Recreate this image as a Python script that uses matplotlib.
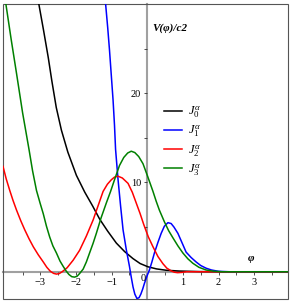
import matplotlib
matplotlib.use('Agg')
import matplotlib.pyplot as plt
from matplotlib.patches import Rectangle

plt.rcParams['font.family'] = ['Liberation Serif', 'DejaVu Serif']
plt.rcParams['mathtext.fontset'] = 'custom'
plt.rcParams['mathtext.rm'] = 'Liberation Serif'
plt.rcParams['mathtext.it'] = 'Liberation Serif:italic'
plt.rcParams['mathtext.bf'] = 'Liberation Serif:bold'

# valores
x_j0 = [-3.045, -2.91, -2.78, -2.68, -2.555, -2.41, -2.23, -1.99, -1.756, -1.532, -1.336,
        -1.112, -0.868, -0.636, -0.403, -0.2, 0.017, 0.26, 0.53, 0.905, 1.465, 2.0, 4.0]
y_j0 = [30.0, 27.0, 24.0, 21.4, 18.4, 15.85, 13.4, 10.8, 8.92, 7.35, 5.89,
        4.55, 3.21, 2.26, 1.48, 0.92, 0.56, 0.32, 0.17, 0.08, 0.02, 0.0, 0.0]

x_j1 = [-1.17, -1.11, -1.06, -1.01, -0.96, -0.92, -0.89, -0.82, -0.75, -0.68, -0.59, -0.5,
        -0.45, -0.4, -0.35, -0.29, -0.23, -0.18, -0.13, -0.08, 0.0, 0.06, 0.13, 0.2, 0.3,
        0.39, 0.48, 0.58, 0.67, 0.75, 0.86, 0.97, 1.09, 1.23, 1.37, 1.5, 1.65, 1.8, 2.0,
        2.3, 4.0]
y_j1 = [30.0, 27.3, 24.8, 22.0, 19.2, 16.4, 13.7, 10.3, 7.4, 4.7, 2.5, 0.6,
        -0.6, -1.7, -2.5, -3.0, -2.9, -2.5, -1.95, -1.3, -0.4, 0.2, 1.1, 2.1, 3.3,
        4.3, 5.1, 5.5, 5.4, 5.0, 4.3, 3.3, 2.2, 1.6, 1.1, 0.7, 0.4, 0.2, 0.05,
        0.0, 0.0]

x_j2 = [-4.05, -3.96, -3.86, -3.77, -3.67, -3.55, -3.44, -3.32, -3.2, -3.06, -2.92, -2.82,
        -2.72, -2.63, -2.55, -2.47, -2.39, -2.25, -2.08, -1.9, -1.71, -1.52, -1.38, -1.24,
        -1.12, -1.01, -0.92, -0.82, -0.7, -0.54, -0.42, -0.31, -0.2, -0.1, 0.03, 0.16,
        0.3, 0.44, 0.55, 0.67, 0.76, 0.85, 0.97, 1.1, 1.5, 4.0]
y_j2 = [11.8, 10.4, 9.1, 8.0, 6.9, 5.7, 4.7, 3.7, 2.8, 1.9, 1.1, 0.5,
        0.05, -0.18, -0.26, -0.2, 0.0, 0.45, 1.3, 2.4, 4.0, 5.8, 7.4, 9.0,
        9.8, 10.3, 10.6, 10.7, 10.5, 9.9, 8.9, 7.7, 6.5, 5.3, 3.9, 2.8,
        1.7, 0.9, 0.4, 0.1, -0.05, -0.1, -0.07, 0.0, 0.0, 0.0]

x_j3 = [-3.97, -3.82, -3.67, -3.5, -3.32, -3.22, -3.11, -3.01, -2.92, -2.83, -2.74, -2.65,
        -2.55, -2.45, -2.36, -2.28, -2.2, -2.12, -2.04, -1.97, -1.9, -1.8, -1.71, -1.62,
        -1.52, -1.43, -1.3, -1.15, -1.03, -0.92, -0.78, -0.66, -0.55, -0.45, -0.35, -0.24,
        -0.12, 0.0, 0.08, 0.16, 0.25, 0.34, 0.48, 0.6, 0.72, 0.86, 1.0, 1.14, 1.28, 1.45,
        1.65, 1.85, 2.1, 4.0]
y_j3 = [30.0, 26.0, 22.2, 17.8, 13.7, 11.3, 9.1, 7.7, 6.5, 5.1, 3.9, 2.9,
        2.1, 1.2, 0.6, 0.1, -0.3, -0.55, -0.6, -0.5, -0.2, 0.3, 1.1, 2.1,
        3.2, 4.3, 6.0, 7.7, 9.0, 10.3, 11.9, 12.8, 13.3, 13.5, 13.35, 12.9,
        12.1, 10.8, 9.9, 9.0, 7.9, 6.9, 5.6, 4.6, 3.8, 2.9, 2.1, 1.45, 0.95, 0.5,
        0.2, 0.07, 0.0, 0.0]

fig = plt.figure(figsize=(2.95, 3.03), dpi=100)
ax = fig.add_axes([0.0102, 0.0132, 0.966, 0.974])

ax.plot(x_j0, y_j0, color='black', lw=1.1, label=r'$J_0^{\alpha}$')
ax.plot(x_j1, y_j1, color='#0000ff', lw=1.1, label=r'$J_1^{\alpha}$')
ax.plot(x_j2, y_j2, color='#ff0000', lw=1.1, label=r'$J_2^{\alpha}$')
ax.plot(x_j3, y_j3, color='#008000', lw=1.1, label=r'$J_3^{\alpha}$')

ax.set_xlim(-4.05, 3.95)
ax.set_ylim(-3.05, 30)

# eixos passando pela origem
for s in ['top', 'right']:
    ax.spines[s].set_visible(False)
for s in ['left', 'bottom']:
    ax.spines[s].set_position(('data', 0))
    ax.spines[s].set_color('#a0a0a0')
    ax.spines[s].set_linewidth(1.5)
    ax.spines[s].set_zorder(0)

ax.add_patch(Rectangle((0, 0), 1, 1, transform=ax.transAxes, fill=False,
                       ec='#555555', lw=0.8, clip_on=False))

ax.set_xticks([-3, -2, -1, 1, 2, 3])
ax.set_xticklabels(['\u22123', '\u22122', '\u22121', '1', '2', '3'])
ax.set_xticks([-3.5, -2.5, -1.5, -0.5, 0.5, 1.5, 2.5, 3.5], minor=True)
ax.set_yticks([10, 20])
ax.set_yticks([5, 15, 25], minor=True)
ax.tick_params(which='both', direction='out', length=2.5, width=0.6, color='#333333',
               labelsize=7.5, pad=2)
ax.text(-0.05, -0.3, '0', fontsize=7.5, ha='right', va='top')

ax.text(0.15, 27.3, 'V(φ)/c2', fontsize=8, fontweight='bold', fontstyle='italic',
        ha='left', va='center')
ax.text(2.91, 1.5, 'φ', fontsize=8, fontweight='bold', fontstyle='italic',
        ha='center', va='center')

ax.legend(loc='upper left', bbox_to_anchor=(0.565, 0.658), frameon=False, fontsize=9,
          handlelength=1.45, handletextpad=0.5, labelspacing=0.3, borderaxespad=0,
          borderpad=0)

fig.savefig('out.png', dpi=100)
